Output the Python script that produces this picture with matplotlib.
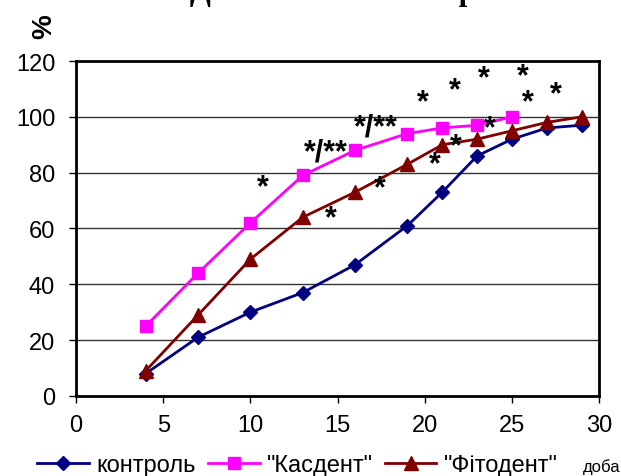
import matplotlib.pyplot as plt
from matplotlib.lines import Line2D

# дані
days_control = [4, 7, 10, 13, 16, 19, 21, 23, 25, 27, 29]
control = [8, 21, 30, 37, 47, 61, 73, 86, 92, 96, 97]

days_kasdent = [4, 7, 10, 13, 16, 19, 21, 23, 25]
kasdent = [25, 44, 62, 79, 88, 94, 96, 97, 100]

days_fito = [4, 7, 10, 13, 16, 19, 21, 23, 25, 27, 29]
fito = [9, 29, 49, 64, 73, 83, 90, 92, 95, 98, 100]

# зірочки (x, y, текст)
stars_x = [10.7, 14.3, 17.2, 19.9, 21.7, 23.4, 25.6, 25.9, 27.5, 14.6, 17.4, 20.6, 21.8, 23.7]
stars_y = [76.6, 89.2, 98.2, 107.2, 111.4, 115.8, 116.5, 107.2, 110.2, 65.6, 76.3, 85.0, 91.4, 97.8]
stars_txt = ["*", "*/**", "*/**", "*", "*", "*", "*", "*", "*", "*", "*", "*", "*", "*"]

yticks = [0, 20, 40, 60, 80, 100, 120]
xticks = [0, 5, 10, 15, 20, 25, 30]

plt.rcParams['font.family'] = ['Liberation Sans', 'DejaVu Sans']

fig = plt.figure(figsize=(6.21, 4.77), dpi=100)
ax = fig.add_axes([0.1224, 0.168, 0.8426, 0.702])

navy = '#000080'
pink = '#FF00FF'
dred = '#800000'

ax.plot(days_control, control, color=navy, lw=2, marker='D', ms=7, zorder=3)
ax.plot(days_kasdent, kasdent, color=pink, lw=2, marker='s', ms=9, zorder=3)
ax.plot(days_fito, fito, color=dred, lw=2, marker='^', ms=10, zorder=3)

for x, y, t in zip(stars_x, stars_y, stars_txt):
    ax.text(x, y - 2.0, t, ha='center', va='center', fontsize=22, fontweight='bold')

ax.set_xlim(0, 30)
ax.set_ylim(0, 120)
ax.set_xticks(xticks)
ax.set_yticks(yticks)
ax.tick_params(labelsize=17, direction='out', length=5, width=1)
ax.tick_params(axis='x', pad=8)
ax.tick_params(axis='y', pad=10)
for g in [20, 40, 60, 80, 100]:
    ax.axhline(g, color='#333333', lw=1, zorder=1)
for s in ax.spines.values():
    s.set_linewidth(2)

fig.text(0.072, 0.945, '%', rotation=90, fontsize=20, fontweight='bold', ha='center', va='center')

# заголовок (обрізаний зверху)
fig.text(190 / 621, 1.0, 'Динаміка загоєння ран', fontsize=22, fontweight='bold',
         family='Liberation Serif', ha='left', va='baseline')

handles = [Line2D([], [], color=navy, lw=2, marker='D', ms=7),
           Line2D([], [], color=pink, lw=2, marker='s', ms=9),
           Line2D([], [], color=dred, lw=2, marker='^', ms=10)]
labels = ['контроль', '"Касдент"', '"Фітодент"']
fig.legend(handles, labels, loc='center', bbox_to_anchor=(0.479, 0.023), ncol=3, frameon=False,
           fontsize=17, handlelength=2.2, handletextpad=0.3, columnspacing=0.5, borderpad=0)
fig.text(583 / 621, 0.02, 'доба', fontsize=12, ha='left', va='center')

fig.savefig('out.png', dpi=100)
